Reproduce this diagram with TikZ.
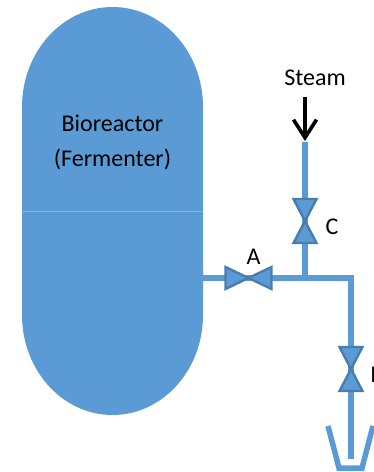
\documentclass[tikz,border=0pt]{standalone}
\usepackage{fontspec}
\setmainfont{Carlito}
\usetikzlibrary{arrows.meta}
\definecolor{vesselblue}{HTML}{5B9BD5}
\definecolor{valveedge}{HTML}{4A7DAE}
\definecolor{seamblue}{HTML}{82B3E0}
\tikzset{
    pipe/.style={draw=vesselblue, line width=6pt},
    valve/.style={fill=vesselblue, draw=valveedge, line width=2.4pt, line join=miter},
    label/.style={font=\fontsize{24}{35}\selectfont, inner sep=0pt, align=center}
}
\begin{document}
\begin{tikzpicture}[x=1pt, y=-1pt, >={Straight Barb[length=18pt,width=23pt]}]
            \useasboundingbox (0, 0) rectangle (374, 472);
            % vessel
            \fill[vesselblue] (22, 107) arc[start angle=180, end angle=0, x radius=90.5pt, y radius=100pt]
                -- (203, 315) arc[start angle=0, end angle=-180, x radius=90.5pt, y radius=100pt] -- cycle;
            \coordinate (seamL) at (22, 211);
            \coordinate (seamR) at (203, 211);
            \draw[seamblue, line width=.8pt] (seamL) -- (seamR);
            \node[label] (vessel) at (112.5, 142) {Bioreactor\\(Fermenter)};
            % pipes
            \coordinate (outlet) at (203, 278);
            \coordinate (tee) at (305, 278);
            \coordinate (elbow) at (351, 278);
            \coordinate (inlet) at (305, 142);
            \coordinate (drain) at (351, 459);
            \draw[pipe] (inlet) -- (tee);
            \draw[pipe, line join=miter] (outlet) -- (elbow) -- (drain);
            % valves
            \coordinate (valveA) at (248.5, 278);
            \coordinate (valveC) at (305, 221);
            \coordinate (valveD) at (351, 369);
            \draw[valve] (valveA) -- ++(-23, -11) -- ++(0, 22) -- cycle;
            \draw[valve] (valveA) -- ++(23, -11) -- ++(0, 22) -- cycle;
            \foreach \v in {valveC, valveD}
            {
                \draw[valve] (\v) -- ++(-11.5, -22) -- ++(23, 0) -- cycle;
                \draw[valve] (\v) -- ++(-11.5, 22) -- ++(23, 0) -- cycle;
            }
            \node[label] (labelA) at (253.5, 257) {A};
            \node[label] (labelC) at (332, 227) {C};
            \node[label] (labelD) at (378, 375) {D};
            % steam
            \node[label] (steam) at (315, 78) {Steam};
            \coordinate (steamTop) at (305, 97);
            \coordinate (steamTip) at (305, 141);
            \draw[->, line width=3.6pt] (steamTop) -- (steamTip);
            % funnel
            \coordinate (funnelA) at (328, 426);
            \coordinate (funnelB) at (339, 468);
            \coordinate (funnelC) at (362, 468);
            \coordinate (funnelD) at (373, 426);
            \draw[pipe, line width=5.5pt] (funnelA) -- (funnelB) -- (funnelC) -- (funnelD);
        \end{tikzpicture}
\end{document}
